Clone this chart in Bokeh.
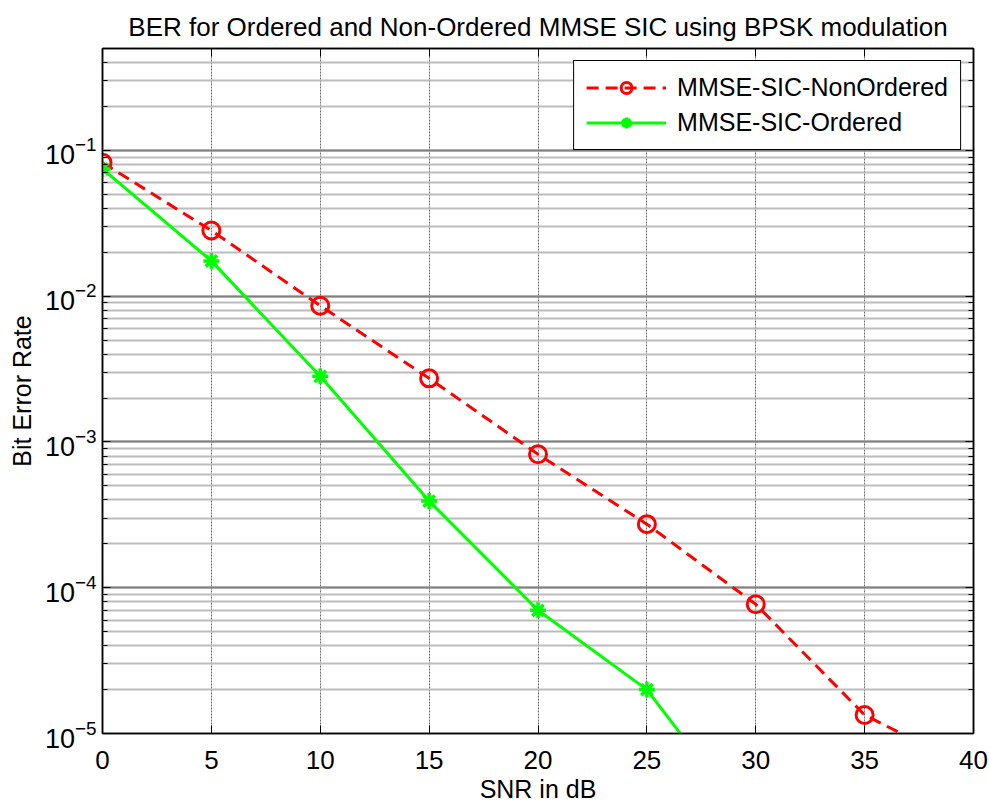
from bokeh.plotting import figure
from bokeh.models import (Range1d, LogAxis, LinearAxis, Legend, LegendItem,
                          LogTicker, SingleIntervalTicker, CustomJSTickFormatter)
from bokeh.embed import file_html
from bokeh.resources import INLINE

# ---- data ----
snr_nonordered = [0, 5, 10, 15, 20, 25, 30, 35, 40]
ber_nonordered = [0.0824, 0.0282, 0.0086, 0.00273, 0.000824, 0.000273, 7.7e-5, 1.34e-5, 5.6e-6]
snr_ordered = [0, 5, 10, 15, 20, 25, 30]
ber_ordered = [0.0746, 0.01746, 0.00282, 0.000393, 7.0e-5, 2.0e-5, 2.1e-6]

title_text = "BER for Ordered and Non-Ordered MMSE SIC using BPSK modulation"
xlabel = "SNR in dB"
ylabel = "Bit Error Rate"
labels = ["MMSE-SIC-NonOrdered", "MMSE-SIC-Ordered"]

FONT = "Liberation Sans"

p = figure(frame_width=871, frame_height=685, y_axis_type="log",
           x_range=Range1d(0, 40), y_range=Range1d(1e-5, 0.5),
           output_backend="svg", toolbar_location=None,
           min_border_left=102, min_border_right=17,
           min_border_top=48, min_border_bottom=71,
           background_fill_color="white", border_fill_color="white")

p.title.text = title_text
p.title.align = "center"
p.title.text_font = FONT
p.title.text_font_size = "26px"
p.title.text_font_style = "normal"
p.title.text_color = "black"
p.title.standoff = 14

p.outline_line_color = "black"
p.outline_line_width = 1.5
p.outline_line_alpha = 1

# grids
p.xgrid.ticker = SingleIntervalTicker(interval=5)
p.xgrid.grid_line_color = "#6a6a6a"
p.xgrid.grid_line_width = 1
p.xgrid.grid_line_dash = "2 1"
p.ygrid.grid_line_color = "#808080"
p.ygrid.grid_line_width = 2
p.ygrid.minor_grid_line_color = "#bcbcbc"
p.ygrid.minor_grid_line_width = 2

# bottom axis
xa = p.xaxis[0]
xa.ticker = SingleIntervalTicker(interval=5, num_minor_ticks=0)
xa.axis_label = xlabel
xa.axis_label_text_font = FONT
xa.axis_label_text_font_size = "25px"
xa.axis_label_text_font_style = "normal"
xa.axis_label_text_color = "black"
xa.major_label_text_font = FONT
xa.major_label_text_font_size = "26px"
xa.major_label_text_color = "black"
xa.major_tick_in = 8
xa.major_tick_out = 0
xa.minor_tick_in = 0
xa.minor_tick_out = 0
xa.axis_line_width = 1.5
xa.major_label_standoff = 17
xa.axis_label_standoff = 3

ya = p.yaxis[0]
ya.ticker = LogTicker(num_minor_ticks=10, desired_num_ticks=6)
ya.axis_label = ylabel
ya.axis_label_text_font = FONT
ya.axis_label_text_font_size = "25px"
ya.axis_label_text_font_style = "normal"
ya.axis_label_text_color = "black"
ya.major_label_text_font = FONT
ya.major_label_text_font_size = "27px"
ya.major_label_text_color = "black"
ya.major_tick_in = 8
ya.major_tick_out = 0
ya.minor_tick_in = 5
ya.minor_tick_out = 0
ya.axis_line_width = 1.5
ya.major_label_standoff = 6
ya.axis_label_standoff = 6

# top and right box axes (ticks only)
top = LinearAxis(ticker=SingleIntervalTicker(interval=5, num_minor_ticks=0),
                 formatter=CustomJSTickFormatter(code="return ''"),
                 major_tick_in=8, major_tick_out=0,
                 minor_tick_in=0, minor_tick_out=0, axis_line_width=1.5,
                 major_label_text_color=None, major_label_text_font_size="0px",
                 major_label_standoff=0)
p.add_layout(top, "above")
right = LogAxis(ticker=LogTicker(num_minor_ticks=10, desired_num_ticks=6),
                formatter=CustomJSTickFormatter(code="return ''"),
                major_tick_in=8, major_tick_out=0,
                minor_tick_in=5, minor_tick_out=0, axis_line_width=1.5,
                major_label_text_color=None, major_label_text_font_size="0px",
                major_label_standoff=0)
p.add_layout(right, "right")

# series
r1 = p.line(snr_nonordered, ber_nonordered, line_color="red", line_width=3,
            line_dash="12 7")
m1 = p.scatter(snr_nonordered, ber_nonordered, marker="circle", size=17,
               line_color="red", line_width=3, fill_alpha=0)
r2 = p.line(snr_ordered, ber_ordered, line_color="#00ff00", line_width=3)
m2 = p.scatter(snr_ordered, ber_ordered, marker="asterisk", size=16,
               line_color="#00ff00", line_width=3.5)

legend = Legend(items=[LegendItem(label=labels[0], renderers=[r1, m1]),
                       LegendItem(label=labels[1], renderers=[r2, m2])],
                location="top_right")
legend.margin = 12
legend.padding = 12
legend.spacing = 6
legend.label_height = 27
legend.glyph_height = 27
legend.glyph_width = 80
legend.label_standoff = 11
legend.label_text_font = FONT
legend.label_text_font_size = "25px"
legend.label_text_color = "black"
legend.border_line_color = "black"
legend.border_line_width = 1.5
legend.border_line_alpha = 1
legend.background_fill_alpha = 1
p.add_layout(legend)

open("out.html", "w").write(file_html(p, INLINE))
